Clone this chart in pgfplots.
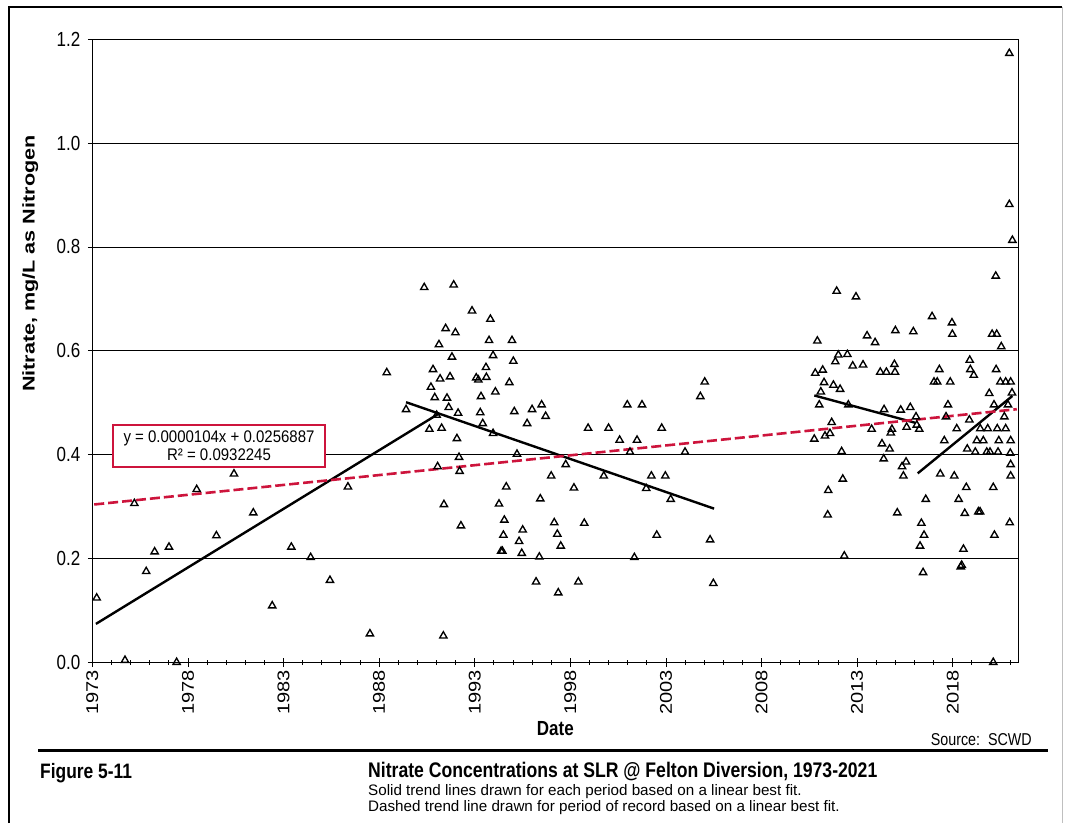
\documentclass[border=0pt]{standalone}
\usepackage{pgfplots}
\usepackage{pgfplotstable}
\pgfplotsset{compat=1.18}
\usepackage{fontspec}
\setmainfont{Liberation Sans}
\definecolor{trendred}{RGB}{205,20,60}
\newcommand{\vs}[1]{\scalebox{1}[1.2]{#1}}
\newcommand{\hs}[1]{\scalebox{1.18}[1]{#1}}

\pgfplotstableread{
year value
1973.23 0.124
1974.71 0.004
1975.20 0.306
1975.82 0.175
1976.26 0.213
1977.01 0.222
1977.41 0.000
1978.46 0.333
1979.49 0.244
1980.41 0.363
1981.42 0.288
1982.41 0.109
1983.41 0.222
1984.42 0.202
1985.43 0.158
1986.37 0.338
1987.52 0.055
1988.40 0.558
1989.41 0.487
1990.36 0.722
1990.63 0.449
1990.71 0.530
1990.82 0.564
1990.91 0.510
1991.01 0.476
1991.06 0.377
1991.13 0.612
1991.19 0.546
1991.27 0.451
1991.36 0.051
1991.39 0.304
1991.48 0.643
1991.55 0.509
1991.64 0.491
1991.71 0.550
1991.81 0.588
1991.90 0.727
1991.99 0.635
1992.07 0.431
1992.13 0.480
1992.18 0.395
1992.21 0.368
1992.28 0.263
1992.86 0.677
1993.08 0.548
1993.19 0.544
1993.29 0.481
1993.33 0.512
1993.42 0.460
1993.59 0.568
1993.61 0.549
1993.75 0.620
1993.82 0.661
1993.96 0.591
1993.96 0.441
1994.08 0.521
1994.27 0.305
1994.38 0.214
1994.45 0.214
1994.50 0.245
1994.55 0.274
1994.65 0.338
1994.81 0.539
1994.95 0.620
1995.02 0.580
1995.07 0.483
1995.21 0.401
1995.32 0.233
1995.46 0.210
1995.51 0.255
1995.74 0.460
1996.00 0.487
1996.21 0.155
1996.38 0.203
1996.43 0.315
1996.50 0.496
1996.71 0.474
1997.00 0.359
1997.16 0.269
1997.32 0.247
1997.37 0.134
1997.50 0.224
1997.76 0.381
1998.19 0.336
1998.42 0.155
1998.73 0.268
1998.93 0.451
1999.75 0.359
2000.00 0.451
2000.58 0.428
2000.98 0.496
2001.12 0.405
2001.35 0.202
2001.49 0.428
2001.75 0.496
2001.97 0.335
2002.24 0.359
2002.52 0.245
2002.78 0.451
2002.97 0.359
2003.25 0.314
2004.00 0.405
2004.80 0.512
2005.03 0.540
2005.31 0.236
2005.48 0.152
2010.76 0.430
2010.81 0.557
2010.92 0.619
2011.02 0.496
2011.10 0.521
2011.20 0.563
2011.27 0.539
2011.32 0.436
2011.46 0.284
2011.49 0.331
2011.58 0.441
2011.67 0.462
2011.76 0.534
2011.86 0.579
2011.93 0.715
2012.02 0.592
2012.11 0.526
2012.19 0.406
2012.25 0.353
2012.33 0.205
2012.49 0.593
2012.54 0.496
2012.77 0.571
2012.94 0.704
2013.31 0.573
2013.52 0.629
2013.76 0.449
2013.94 0.616
2014.21 0.559
2014.30 0.421
2014.39 0.392
2014.41 0.487
2014.53 0.559
2014.70 0.411
2014.76 0.442
2014.82 0.449
2014.95 0.574
2014.98 0.559
2015.00 0.639
2015.10 0.288
2015.28 0.486
2015.35 0.377
2015.42 0.359
2015.56 0.386
2015.59 0.453
2015.78 0.491
2015.94 0.637
2016.08 0.473
2016.12 0.457
2016.25 0.449
2016.29 0.224
2016.36 0.268
2016.45 0.173
2016.50 0.245
2016.59 0.314
2016.92 0.666
2017.02 0.540
2017.19 0.540
2017.30 0.564
2017.35 0.363
2017.56 0.427
2017.65 0.473
2017.75 0.496
2017.87 0.540
2017.96 0.654
2017.98 0.632
2018.08 0.359
2018.21 0.450
2018.31 0.314
2018.42 0.184
2018.47 0.187
2018.56 0.218
2018.63 0.287
2018.71 0.337
2018.76 0.411
2018.87 0.467
2018.89 0.582
2018.92 0.564
2019.10 0.553
2019.18 0.405
2019.26 0.427
2019.34 0.290
2019.43 0.290
2019.44 0.450
2019.60 0.427
2019.78 0.405
2019.83 0.450
2019.91 0.518
2019.95 0.405
2020.06 0.632
2020.12 0.337
2020.12 0.000
2020.16 0.496
2020.18 0.245
2020.25 0.744
2020.27 0.564
2020.30 0.632
2020.33 0.450
2020.37 0.405
2020.41 0.427
2020.49 0.540
2020.54 0.608
2020.70 0.473
2020.77 0.540
2020.77 0.450
2020.89 0.496
2020.96 1.173
2020.96 0.882
2020.98 0.269
2021.01 0.403
2021.03 0.540
2021.03 0.427
2021.03 0.381
2021.03 0.359
2021.10 0.519
2021.12 0.813
}\nitrate

\begin{document}
\begin{tikzpicture}
\path[use as bounding box] (0pt,0pt) rectangle (1070pt,-823pt);
\fill[white] (0pt,0pt) rectangle (1070pt,-823pt);
\draw[line width=1.8pt] (9pt,-823pt) -- (9pt,-7pt) -- (1062pt,-7pt);
\draw[line width=0.8pt, black!25] (1062pt,-7pt) -- (1062pt,-823pt);

\begin{axis}[
  at={(92.3pt,-662.3pt)}, anchor=south west,
  scale only axis, width=926pt, height=623pt,
  xmin=1973, xmax=2021.43, ymin=0, ymax=1.2,
  clip=false,
  xtick={1973,1978,1983,1988,1993,1998,2003,2008,2013,2018},
  xticklabels={\hs{1973},\hs{1978},\hs{1983},\hs{1988},\hs{1993},\hs{1998},\hs{2003},\hs{2008},\hs{2013},\hs{2018}},
  minor xtick={1974,1975,1976,1977,1979,1980,1981,1982,1984,1985,1986,1987,1989,1990,1991,1992,1994,1995,1996,1997,1999,2000,2001,2002,2004,2005,2006,2007,2009,2010,2011,2012,2014,2015,2016,2017,2019,2020,2021},
  ytick={0,0.2,0.4,0.6,0.8,1.0,1.2},
  /pgf/number format/assume math mode=true,
  yticklabel={\vs{\pgfmathprintnumber[fixed,fixed zerofill,precision=1]{\tick}}},
  yticklabel style={xshift=-4pt},
  xtick pos=left, ytick pos=left,
  tick align=center, major tick length=9pt, minor tick length=5pt,
  ymajorgrids, grid style={black, line width=0.8pt},
  axis line style={line width=1pt},
  tick style={black, line width=0.8pt},
  ticklabel style={font=\fontsize{17}{20}\selectfont},
  xticklabel style={rotate=90, anchor=east},
  xlabel={\vs{Date}}, ylabel={\scalebox{1.27}[1]{Nitrate, mg/L as Nitrogen}},
  label style={font=\bfseries\fontsize{17}{20}\selectfont},
  xlabel style={at={(axis description cs:0.5,-0.106)}, anchor=center},
  ylabel style={at={(axis description cs:-0.067,0.64)}, anchor=center},
]
\addplot[only marks, mark=triangle, mark size=4.2pt, mark options={solid, black, line width=1.35pt, fill=none}] table[x=year, y=value] {\nitrate};
\addplot[black, line width=2.4pt] coordinates {(1973.19,0.074) (1991.08,0.478)};
\addplot[black, line width=2.4pt] coordinates {(1989.41,0.501) (2005.52,0.296)};
\addplot[black, line width=2.4pt] coordinates {(2010.76,0.514) (2016.03,0.4615)};
\addplot[black, line width=2.4pt] coordinates {(2016.17,0.364) (2021.12,0.513)};
\addplot[trendred, line width=2.6pt, dash pattern=on 10pt off 4pt] coordinates {(1973.1,0.304) (2021.35,0.4875)};
\end{axis}

\node[draw=trendred, line width=1.5pt, fill=white, align=center, font=\fontsize{15}{18}\selectfont, minimum width=212pt, minimum height=42pt, inner sep=2pt] at (219pt,-446pt) {\scalebox{1}[1.12]{y = 0.0000104x + 0.0256887}\\\scalebox{1}[1.12]{R² = 0.0932245}};

\node[anchor=base east, font=\fontsize{14.3}{16}\selectfont, inner sep=0pt] at (1032pt,-745pt) {\vs{Source:\ \ SCWD}};
\draw[line width=3pt] (38pt,-750.5pt) -- (1048pt,-750.5pt);
\node[anchor=base west, font=\bfseries\fontsize{17.4}{20}\selectfont, inner sep=0pt] at (40pt,-778pt) {\vs{Figure 5-11}};
\node[anchor=base west, font=\bfseries\fontsize{17.6}{20}\selectfont, inner sep=0pt] at (368pt,-777.5pt) {\vs{Nitrate Concentrations at SLR @ Felton Diversion, 1973-2021}};
\node[anchor=base west, font=\fontsize{15.2}{17}\selectfont, inner sep=0pt] at (368pt,-795pt) {Solid trend lines drawn for each period based on a linear best fit.};
\node[anchor=base west, font=\fontsize{15.2}{17}\selectfont, inner sep=0pt] at (368pt,-811pt) {Dashed trend line drawn for period of record based on a linear best fit.};
\end{tikzpicture}
\end{document}
